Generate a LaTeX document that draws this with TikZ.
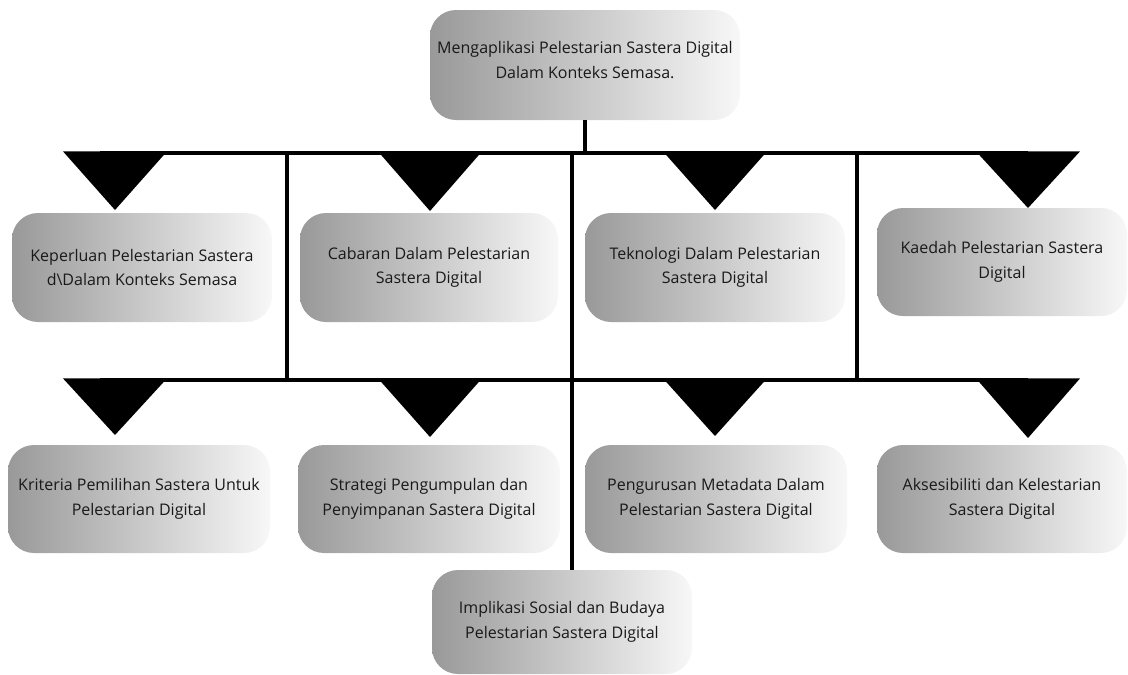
\documentclass[tikz,border=0pt]{standalone}
\usepackage{fontspec}
\setmainfont{Open Sans}
\begin{document}
\begin{tikzpicture}[x=1pt,y=-1pt,
  box/.style={rounded corners=26pt, left color=black!40, right color=black!3, draw=none,
    font=\fontsize{16}{24.5}\selectfont, text=black!90, align=center, inner sep=0pt},
  wire/.style={line width=3.2pt},
  tri/.style={fill=black}]
\useasboundingbox (0,0) rectangle (1128,675);

% boxes
\node[box, minimum width=310pt, minimum height=110pt] (top) at (585,65) {Mengaplikasi Pelestarian Sastera Digital\\Dalam Konteks Semasa.\\[-14pt]};
\node[box, minimum width=260pt, minimum height=109pt] (a1) at (142,267.5) {Keperluan Pelestarian Sastera\\d\textbackslash Dalam Konteks Semasa};
\node[box, minimum width=258pt, minimum height=109pt] (a2) at (429,267.5) {Cabaran Dalam Pelestarian\\Sastera Digital};
\node[box, minimum width=260pt, minimum height=109pt] (a3) at (715,267.5) {Teknologi Dalam Pelestarian\\Sastera Digital};
\node[box, minimum width=250pt, minimum height=108pt] (a4) at (1002,262) {Kaedah Pelestarian Sastera\\Digital};
\node[box, minimum width=262pt, minimum height=108pt] (b1) at (139,499) {Kriteria Pemilihan Sastera Untuk\\Pelestarian Digital};
\node[box, minimum width=262pt, minimum height=108pt] (b2) at (429,499) {Strategi Pengumpulan dan\\Penyimpanan Sastera Digital};
\node[box, minimum width=262pt, minimum height=108pt] (b3) at (716,499) {Pengurusan Metadata Dalam\\Pelestarian Sastera Digital};
\node[box, minimum width=250pt, minimum height=108pt] (b4) at (1002,499) {Aksesibiliti dan Kelestarian\\Sastera Digital};
\node[box, minimum width=260pt, minimum height=104pt] (imp) at (562,622) {Implikasi Sosial dan Budaya\\Pelestarian Sastera Digital};

% bus coordinates
\coordinate (h1L) at (100,153);
\coordinate (h1R) at (1028,153);
\coordinate (h2L) at (100,380);
\coordinate (h2R) at (1028,380);
\coordinate (v1t) at (287,153);
\coordinate (v2t) at (572,153);
\coordinate (v3t) at (857,153);
\coordinate (v1b) at (287,380);
\coordinate (v3b) at (857,380);

% connectors
\draw[wire] (top.south -| 585,0) -- (top.south |- h1L);
\draw[wire] (h1L) -- (h1R);
\draw[wire] (h2L) -- (h2R);
\draw[wire] (v1t) -- (v1b);
\draw[wire] (v3t) -- (v3b);
\draw[wire] (v2t) -- (v2t |- imp.north);

% triangles row 1
\foreach \cx/\ap in {115/210, 430/211, 715/210, 1028/208} {
  \fill[tri] (\cx-52,151.4) -- (\cx+52,151.4) -- (\cx,\ap) -- cycle;
}
% triangles row 2
\foreach \cx/\ap in {115/435, 430/437, 715/436, 1028/438} {
  \fill[tri] (\cx-52,378.4) -- (\cx+52,378.4) -- (\cx,\ap) -- cycle;
}
\end{tikzpicture}
\end{document}
